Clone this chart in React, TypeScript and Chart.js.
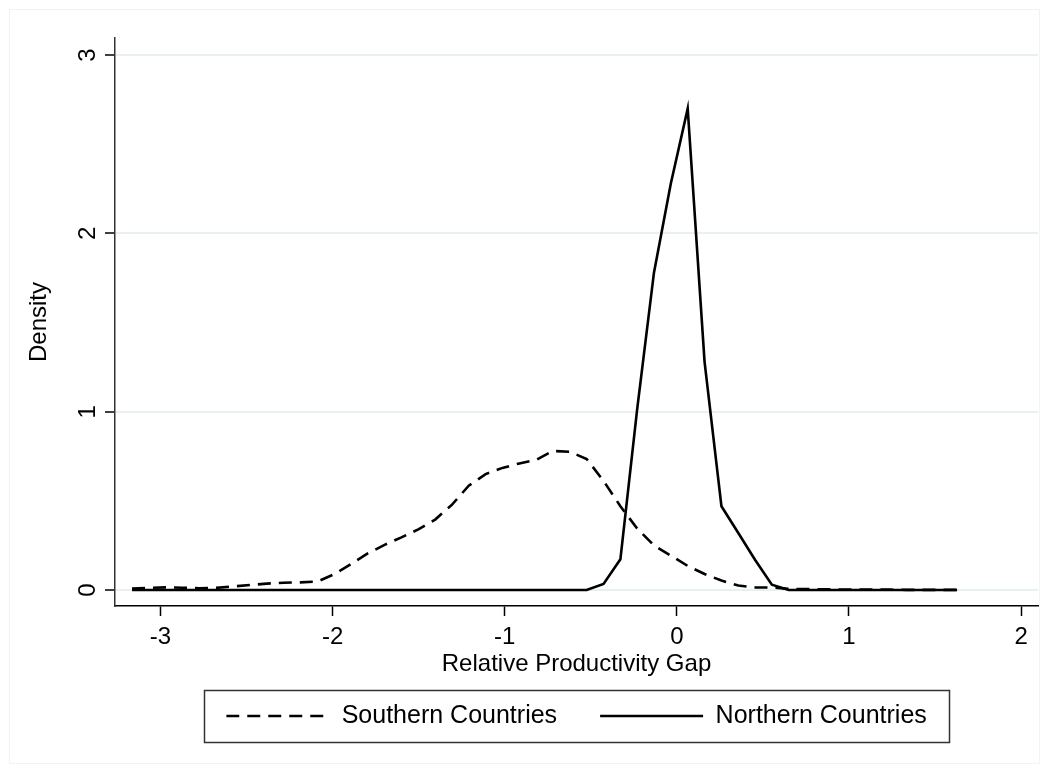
import React, { useEffect, useRef } from "react";
import { Chart, registerables } from "chart.js";

Chart.register(...registerables);

const xGrid = [
  -3.165, -3.067, -2.969, -2.872, -2.774, -2.676, -2.578, -2.48, -2.382, -2.285,
  -2.187, -2.089, -1.991, -1.893, -1.796, -1.698, -1.6, -1.502, -1.404, -1.306,
  -1.209, -1.111, -1.013, -0.915, -0.817, -0.72, -0.622, -0.524, -0.426, -0.328,
  -0.231, -0.133, -0.035, 0.063, 0.161, 0.259, 0.357, 0.454, 0.552, 0.65,
  0.748, 0.846, 0.944, 1.041, 1.139, 1.237, 1.335, 1.433, 1.531, 1.628,
];

const southern = [
  0.008, 0.012, 0.015, 0.013, 0.01, 0.012, 0.02, 0.028, 0.036, 0.041,
  0.043, 0.047, 0.088, 0.145, 0.205, 0.253, 0.295, 0.34, 0.395, 0.479,
  0.585, 0.65, 0.685, 0.71, 0.73, 0.78, 0.775, 0.735, 0.612, 0.47,
  0.345, 0.25, 0.193, 0.135, 0.09, 0.053, 0.025, 0.015, 0.014, 0.006,
  0.005, 0.004, 0.003, 0.003, 0.002, 0.002, 0.001, 0.001, 0.001, 0.001,
];

const northern = [
  0, 0, 0, 0, 0, 0, 0, 0, 0, 0,
  0, 0, 0, 0, 0, 0, 0, 0, 0, 0,
  0, 0, 0, 0, 0, 0, 0, 0, 0.034, 0.172,
  1.01, 1.78, 2.28, 2.7, 1.28, 0.47, 0.32, 0.17, 0.03, 0,
  0, 0, 0, 0, 0, 0, 0, 0, 0, 0,
];

const xTicks = [-3, -2, -1, 0, 1, 2];
const yTicks = [0, 1, 2, 3];

const seriesNames = ["Southern Countries", "Northern Countries"];
const xTitle = "Relative Productivity Gap";
const yTitle = "Density";

const FONT = "'Liberation Sans', Arial, Helvetica, sans-serif";
const DASH = [13, 8];

let dashPattern: any = null;

const legendBoxPlugin = {
  id: "legendBox",
  beforeDraw(chart: any) {
    const lg = chart.legend;
    if (dashPattern && lg && lg.legendHitBoxes && lg.legendHitBoxes.length) {
      const left = lg.legendHitBoxes[0].left;
      try {
        dashPattern.setTransform(new DOMMatrix([1, 0, 0, 1, left, 0]));
      } catch (e) {}
    }
  },
  afterDraw(chart: any) {
    const lg = chart.legend;
    if (!lg || !lg.legendHitBoxes || !lg.legendHitBoxes.length) return;
    const hb = lg.legendHitBoxes;
    let l = Infinity, r = -Infinity, cy = 0;
    hb.forEach((h: any) => {
      l = Math.min(l, h.left);
      r = Math.max(r, h.left + h.width);
      cy = h.top + h.height / 2;
    });
    const ctx = chart.ctx;
    ctx.save();
    ctx.strokeStyle = "#333";
    ctx.lineWidth = 1.5;
    ctx.setLineDash([]);
    ctx.strokeRect(Math.round(l - 22) + 0.5, Math.round(cy - 26) + 0.5, Math.round(r - l + 44), 52);
    ctx.restore();
  },
};

const framePlugin = {
  id: "frame",
  beforeDraw(chart: any) {
    const ctx = chart.ctx;
    ctx.save();
    ctx.fillStyle = "#ffffff";
    ctx.fillRect(0, 0, chart.width, chart.height);
    ctx.strokeStyle = "#f3f3f3";
    ctx.lineWidth = 1;
    ctx.strokeRect(9.5, 9.5, chart.width - 19, chart.height - 19);
    ctx.restore();
  },
};

export default function App() {
  const ref = useRef<HTMLCanvasElement | null>(null);

  useEffect(() => {
    if (!ref.current) return;
    const pc = document.createElement("canvas");
    pc.width = DASH[0] + DASH[1];
    pc.height = 4;
    const pctx = pc.getContext("2d");
    if (pctx) {
      pctx.fillStyle = "#000";
      pctx.fillRect(0, 0, DASH[0], 4);
    }
    dashPattern = ref.current.getContext("2d")!.createPattern(pc, "repeat");

    const chart = new Chart(ref.current, {
      type: "line",
      data: {
        datasets: [
          {
            label: seriesNames[0],
            data: xGrid.map((x, i) => ({ x, y: southern[i] })),
            borderColor: "#000",
            backgroundColor: "#000",
            borderWidth: 2.6,
            borderDash: DASH,
            pointRadius: 0,
            tension: 0,
            fill: false,
          },
          {
            label: seriesNames[1],
            data: xGrid.map((x, i) => ({ x, y: northern[i] })),
            borderColor: "#000",
            backgroundColor: "#000",
            borderWidth: 2.6,
            pointRadius: 0,
            tension: 0,
            fill: false,
          },
        ],
      },
      options: {
        responsive: false,
        animation: false,
        layout: { padding: { top: 38, right: 11, left: 0, bottom: 34.5 } },
        plugins: {
          tooltip: { enabled: false },
          legend: {
            position: "bottom",
            fullSize: false,
            labels: {
              boxWidth: 103,
              boxHeight: 2.6,
              color: "#000",
              padding: 43,
              font: { family: FONT, size: 25 },
              generateLabels: (chart: any) =>
                chart.data.datasets.map((ds: any, i: number) => ({
                  text: ds.label,
                  fillStyle: i === 0 && dashPattern ? dashPattern : "#000",
                  strokeStyle: "rgba(0,0,0,0)",
                  lineWidth: 0,
                  hidden: false,
                  datasetIndex: i,
                  fontColor: "#000",
                })),
            },
          },
        },
        scales: {
          x: {
            type: "linear",
            min: -3.264,
            max: 2.098,
            afterBuildTicks: (s: any) => {
              s.ticks = xTicks.map((v) => ({ value: v }));
            },
            afterFit: (s: any) => {
              s.height = 54.5;
            },
            ticks: {
              color: "#000",
              padding: 7,
              font: { family: FONT, size: 24 },
              callback: (v: any) => String(v),
            },
            grid: {
              drawOnChartArea: false,
              drawTicks: true,
              tickLength: 10,
              tickColor: "#000",
              tickWidth: 1.5,
            },
            border: { display: true, color: "#000", width: 1.5 },
            title: {
              display: true,
              text: xTitle,
              color: "#000",
              font: { family: FONT, size: 24, lineHeight: 1 },
              padding: { top: 0, bottom: -15.5 },
            },
          },
          y: {
            type: "linear",
            min: -0.0897,
            max: 3.096,
            afterBuildTicks: (s: any) => {
              s.ticks = yTicks.map((v) => ({ value: v }));
            },
            afterFit: (s: any) => {
              s.width = 115;
            },
            ticks: {
              color: "#000",
              padding: 10,
              minRotation: 90,
              maxRotation: 90,
              crossAlign: "center",
              font: { family: FONT, size: 24 },
              callback: (v: any) => String(v),
            },
            grid: {
              drawOnChartArea: true,
              color: "#e9f0f3",
              lineWidth: 2,
              tickLength: 10,
              tickColor: "#000",
              tickWidth: 1.5,
            },
            border: { display: true, color: "#333", width: 1.5 },
            title: {
              display: true,
              text: yTitle,
              color: "#000",
              font: { family: FONT, size: 24 },
              padding: { top: 25, bottom: 0 },
            },
          },
        },
      },
      plugins: [framePlugin, legendBoxPlugin],
    } as any);
    return () => chart.destroy();
  }, []);

  return (
    <div style={{ position: "absolute", top: 0, left: 0, width: 1049, height: 773 }}>
      <canvas ref={ref} width={1049} height={773} />
    </div>
  );
}
